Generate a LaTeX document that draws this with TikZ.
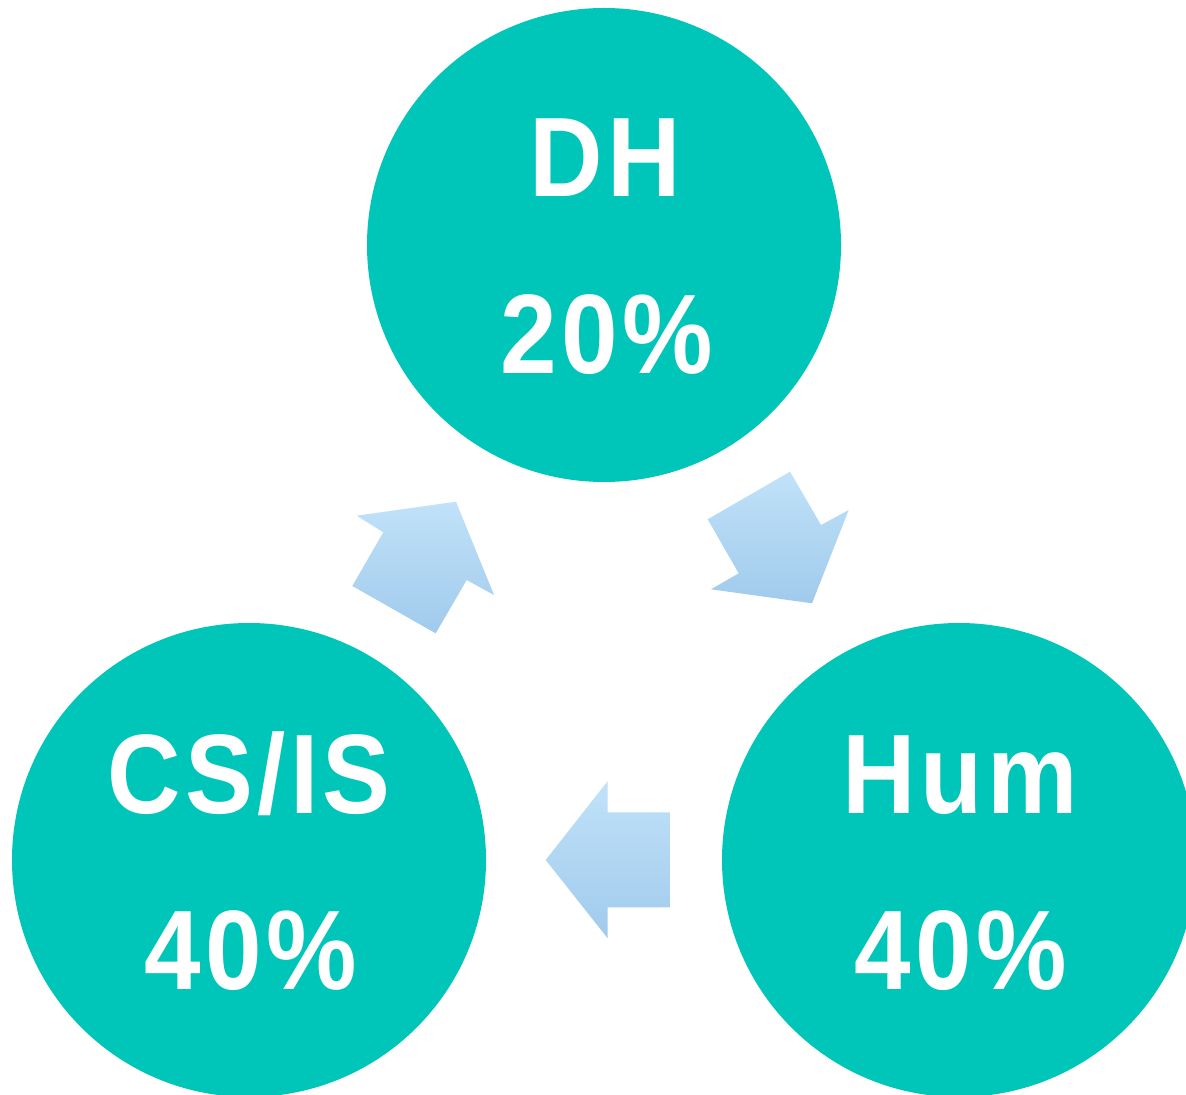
\documentclass[tikz,border=0pt]{standalone}
\usepackage{fontspec}
\setmainfont{Liberation Sans}
\newfontfamily\bubblefont[FakeStretch=0.9,LetterSpace=4]{Liberation Sans Bold}
\definecolor{tealfill}{RGB}{0,197,185}
\definecolor{flowtop}{RGB}{193,226,249}
\definecolor{flowbot}{RGB}{160,202,236}
\tikzset{
  bubble/.style={circle, fill=tealfill, minimum size=237pt, inner sep=0pt},
  bigtext/.style={anchor=base, text=white, inner sep=0pt, font=\bubblefont\fontsize{56.5pt}{60pt}\selectfont},
  flow/.style={top color=flowtop, bottom color=flowbot}
}
\begin{document}
\begin{tikzpicture}[x=0.5pt,y=-0.5pt]
        \useasboundingbox (0,0) rectangle (1186,1095);
        \clip (0,0) rectangle (1186,1095);
        \fill[white] (0,0) rectangle (1186,1095);
        %% Circles
        \node[bubble] (dh) at (604,245) {};
        \node[bubble] (csis) at (249,860) {};
        \node[bubble] (hum) at (959,860) {};
        %% Texts
        \node[bigtext] (dhname) at (605,197) {DH};
        \node[bigtext] (dhshare) at (607,374) {20\%};
        \node[bigtext] (csisname) at (249,813) {CS/IS};
        \node[bigtext] (csisshare) at (251,989) {40\%};
        \node[bigtext] (humname) at (960,813) {Hum};
        \node[bigtext] (humshare) at (961,989) {40\%};
        %% Arrows
        \shade[flow] (356.7,515.7) -- (456,501.7) -- (494,595) -- (466.7,580)
            -- (435.7,633.3) -- (352.3,586) -- (383.3,532.3) -- cycle;
        \shade[flow] (790,471.7) -- (821,525) -- (848.7,510) -- (812,603.3)
            -- (711,589.3) -- (738.7,573.3) -- (707.7,519.3) -- cycle;
        \shade[flow] (545.7,860) -- (607.7,781) -- (607.7,812.3) -- (670.7,812.3)
            -- (670.7,907.3) -- (607.7,907.3) -- (607.7,938.3) -- cycle;
\end{tikzpicture}
\end{document}
